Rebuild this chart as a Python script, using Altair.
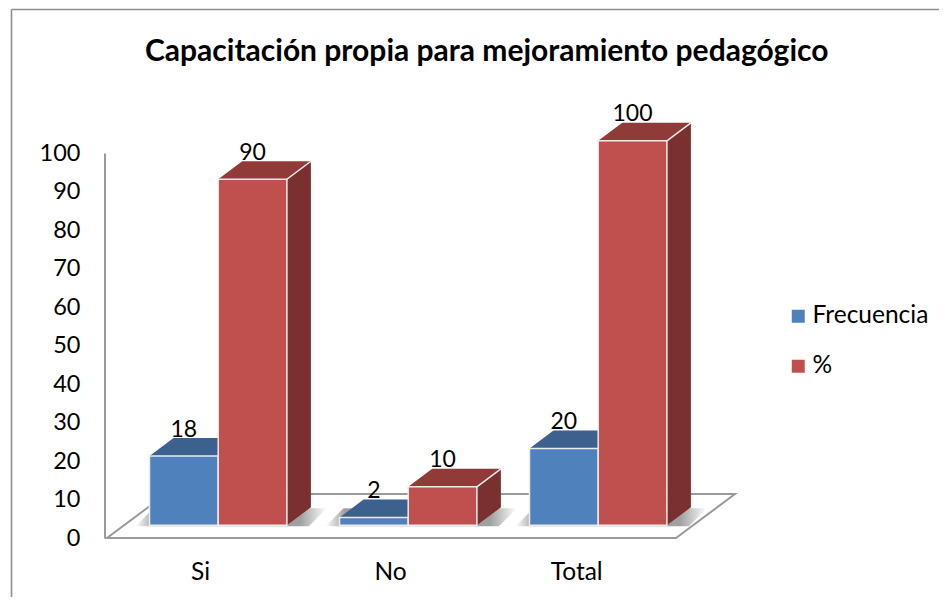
import altair as alt
import pandas as pd

# ---- values
categories = ["Si", "No", "Total"]
frecuencia = [18, 2, 20]
porcentaje = [90, 10, 100]
series_names = ["Frecuencia", "%"]
y_ticks = [0, 10, 20, 30, 40, 50, 60, 70, 80, 90, 100]
x_ticks = [0, 1, 1.98]

# ---- layout in scale units (1 x-unit = one category, y-unit = axis value)
PX_X, PX_Y = 190.0, 3.845
W, H = 931, 589
BAR_W = 68.7 / PX_X
SPLIT = 18.2 / PX_X
DX, DY = 24 / PX_X, 18 / PX_Y
BASE = 12.7 / PX_Y
FONT = "Lato"

xs = alt.Scale(domain=[-192 / PX_X, (W - 192) / PX_X], nice=False, zero=False)
ys = alt.Scale(domain=[(538 - (8 + H)) / PX_Y, (538 - 8) / PX_Y], nice=False, zero=False)

x_axis = alt.Axis(
    values=x_ticks,
    labelExpr="datum.value == 0 ? 'Si' : datum.value == 1 ? 'No' : 'Total'",
    orient="bottom", offset=-37, ticks=False, domain=False, grid=False,
    labelFont=FONT, labelFontSize=24.5, labelColor="#000", labelPadding=0,
)
y_axis = alt.Axis(
    values=y_ticks, orient="left", offset=-72, ticks=False, domain=False, grid=False,
    labelFont=FONT, labelFontSize=23.5, labelColor="#000", labelPadding=0,
)

X = lambda f="x": alt.X(f"{f}:Q", scale=xs, title=None, axis=x_axis)
Y = lambda f="y": alt.Y(f"{f}:Q", scale=ys, title=None, axis=y_axis)
X2 = alt.X2("x2:Q")
Y2 = alt.Y2("y2:Q")


def box(i, s, v):
    left = i + SPLIT + (s - 1) * BAR_W
    return left, left + BAR_W, BASE, BASE + v


front, top, side, edge, labels = [], [], [], [], []
for s, vals in enumerate([frecuencia, porcentaje]):
    for i, v in enumerate(vals):
        x0, x1, b, t = box(i, s, v)
        g = f"{s}-{i}"
        front.append(dict(x=x0, x2=x1, y=b, y2=t, serie=series_names[s], s=s, g=g))
        for px, lo, hi in [(x0, t, t), (x0 + DX, t, t + DY), (x1, t, t + DY), (x1 + DX, t + DY, t + DY)]:
            top.append(dict(x=px, y=lo, y2=hi, s=s, g=g))
        for px, lo, hi in [(x1, b, t), (x1 + DX, b + DY, t + DY)]:
            side.append(dict(x=px, y=lo, y2=hi, s=s, g=g))
        for px, py in [(x1, t), (x1 + DX, t + DY)]:
            edge.append(dict(x=px, y=py, s=s, g=g))
        labels.append(dict(x=(x0 + x1) / 2, y=t + DY, t=str(v), s=s))

front, top, side, edge, labels = map(pd.DataFrame, (front, top, side, edge, labels))

# floor
fx0, fx1 = (107 - 200) / PX_X, (676 - 200) / PX_X
fdx, fdy = 59 / PX_X, 44 / PX_Y
floor = pd.DataFrame(
    [
        dict(x=fx0, y=0, y2=0),
        dict(x=fx0 + fdx, y=0, y2=fdy),
        dict(x=fx1, y=0, y2=fdy),
        dict(x=fx1 + fdx, y=fdy, y2=fdy),
    ]
)

# soft shadow under each pair of bars
shadow = []
for i in range(len(categories)):
    l = i + SPLIT - BAR_W - 14 / PX_X
    r = i + SPLIT + BAR_W + DX + 16 / PX_X
    b0 = BASE - 1 / PX_Y
    b1 = BASE + DY - 1 / PX_Y
    sd = 18 / PX_X
    for px, lo, hi in [(l, b0, b0), (l + sd, b0, b1), (r - sd, b0, b1), (r, b1, b1)]:
        shadow.append(dict(x=px, y=lo, y2=hi, g=i))
shadow = pd.DataFrame(shadow)

shadow_fill = alt.Gradient(
    gradient="linear",
    x1=0, x2=1, y1=0, y2=0,
    stops=[
        alt.GradientStop(offset=0, color="#ffffff"),
        alt.GradientStop(offset=0.1, color="#a0a0a0"),
        alt.GradientStop(offset=0.86, color="#a0a0a0"),
        alt.GradientStop(offset=1, color="#ffffff"),
    ],
)

TOP_C = ["#3C618E", "#913B39"]
SIDE_C = ["#2F4D71", "#7A302E"]
FRONT_C = ["#4F81BD", "#C0504D"]
EDGE = "#ECECEC"

layers = []

# outer frame of the chart area
frame_left = alt.Chart(pd.DataFrame({"a": [0]})).mark_rule(color="#8E8E8E", strokeWidth=1.6).encode(
    x=alt.value(3.5), y=alt.value(1.5), y2=alt.value(H))
frame_top = alt.Chart(pd.DataFrame({"a": [0]})).mark_rule(color="#8E8E8E", strokeWidth=1.6).encode(
    x=alt.value(3.5), x2=alt.value(W), y=alt.value(1.5))
layers += [frame_left, frame_top]

# floor, wall line
layers.append(
    alt.Chart(floor).mark_area(fill="#ffffff", stroke="#9A9A9A", strokeWidth=2, interpolate="linear").encode(
        x=X(), y=Y(), y2=Y2,
    )
)
wall = pd.DataFrame(dict(x=[fx0 - 2 / PX_X], y=[0], y2=[max(y_ticks)]))
layers.append(alt.Chart(wall).mark_rule(color="#9A9A9A", strokeWidth=2).encode(x=X(), y=Y(), y2=Y2))
layers.append(alt.Chart(shadow).mark_area(color=shadow_fill, interpolate="linear").encode(x=X(), y=Y(), y2=Y2, detail="g:N"))


def series_layers(s):
    out = []
    out.append(alt.Chart(side[side.s == s]).mark_area(color=SIDE_C[s], interpolate="linear").encode(x=X(), y=Y(), y2=Y2, detail="g:N"))
    out.append(alt.Chart(top[top.s == s]).mark_area(color=TOP_C[s], interpolate="linear").encode(x=X(), y=Y(), y2=Y2, detail="g:N"))
    out.append(alt.Chart(edge[edge.s == s]).mark_line(color=EDGE, strokeWidth=1.5).encode(x=X(), y=Y(), detail="g:N"))
    return out


legend = alt.Legend(
    orient="none", legendX=778, legendY=296, title=None, symbolType="square", symbolSize=169,
    symbolStrokeWidth=0, labelFont=FONT, labelFontSize=24.5, labelColor="#000", labelOffset=2,
    rowPadding=25,
)
color = alt.Color(
    "serie:N",
    scale=alt.Scale(domain=series_names, range=FRONT_C),
    sort=series_names,
    legend=legend,
)

for s in [0, 1]:
    layers += series_layers(s)
    layers.append(
        alt.Chart(front[front.s == s]).mark_rect(stroke=EDGE, strokeWidth=1.5).encode(
            x=X(), x2=X2, y=Y(), y2=Y2, color=color
        )
    )

layers.append(
    alt.Chart(labels).mark_text(font=FONT, fontSize=23, color="#000", baseline="alphabetic", dy=-1.5).encode(
        x=X(), y=Y(), text="t:N"
    )
)

chart = alt.layer(*layers).properties(
    width=W,
    height=H,
    padding=0,
    autosize=alt.AutoSizeParams(type="none"),
    background="#ffffff",
    title=alt.TitleParams(
        "Capacitación propia para mejoramiento pedagógico",
        anchor="start", frame="group", offset=0, dx=137, dy=83,
        baseline="alphabetic", font=FONT, fontSize=30, fontWeight="bold", color="#000",
    ),
).configure_view(stroke=None)

chart.save("out.html", embed_options={"renderer": "svg", "actions": False})
